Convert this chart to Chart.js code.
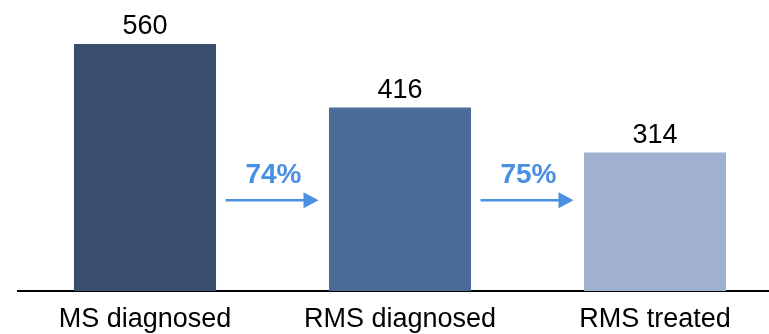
<!DOCTYPE html>
<html>
<head>
<meta charset="utf-8">
<script src="https://cdn.jsdelivr.net/npm/chart.js@4.4.1/dist/chart.umd.min.js"></script>
<style>
  html, body { margin: 0; padding: 0; background: #ffffff; overflow: hidden; }
  #wrap { width: 769px; height: 334px; overflow: hidden; }
  #funnel { display: block; }
</style>
</head>
<body>
<div id="wrap"><canvas id="funnel" width="800" height="334"></canvas></div>
<script>
// Patient funnel: diagnosed MS -> relapsing MS -> treated
const categories = ['MS diagnosed', 'RMS diagnosed', 'RMS treated'];
const patients = [560, 416, 314];
const barColors = ['#394D6E', '#4B6C99', '#9FB1CF'];

const ARROW_BLUE = '#4A90E2';
const AXIS_MAX = 660;
const ARROW_LEVEL = 206;   // value level of the step arrows
const FONT_MAIN = '"Liberation Sans", Arial, sans-serif';

// Bar value labels above each bar
const valueLabels = {
  id: 'valueLabels',
  afterDatasetsDraw(chart) {
    const ctx = chart.ctx;
    const meta = chart.getDatasetMeta(0);
    ctx.save();
    ctx.font = '27px ' + FONT_MAIN;
    ctx.fillStyle = '#000000';
    ctx.textAlign = 'center';
    ctx.textBaseline = 'alphabetic';
    meta.data.forEach((bar, i) => {
      ctx.fillText(String(patients[i]), bar.x, bar.y - 10);
    });
    ctx.restore();
  }
};

// Conversion arrows between consecutive bars, with the step percentage
const stepArrows = {
  id: 'stepArrows',
  afterDatasetsDraw(chart) {
    const ctx = chart.ctx;
    const xs = chart.scales.x;
    const ys = chart.scales.y;
    const y = ys.getPixelForValue(ARROW_LEVEL);
    ctx.save();
    for (let i = 0; i < patients.length - 1; i++) {
      const mid = (xs.getPixelForValue(i) + xs.getPixelForValue(i + 1)) / 2;
      const pct = Math.round(patients[i + 1] / patients[i] * 100) + '%';
      // shaft
      ctx.strokeStyle = ARROW_BLUE;
      ctx.lineWidth = 2.5;
      ctx.beginPath();
      ctx.moveTo(mid - 47, y);
      ctx.lineTo(mid + 33, y);
      ctx.stroke();
      // head
      ctx.fillStyle = ARROW_BLUE;
      ctx.beginPath();
      ctx.moveTo(mid + 31, y - 8);
      ctx.lineTo(mid + 46, y);
      ctx.lineTo(mid + 31, y + 8);
      ctx.closePath();
      ctx.fill();
      // percentage
      ctx.font = 'bold 28px ' + FONT_MAIN;
      ctx.textAlign = 'center';
      ctx.textBaseline = 'alphabetic';
      ctx.fillText(pct, mid + 1, y - 17);
    }
    ctx.restore();
  }
};

new Chart(document.getElementById('funnel'), {
  type: 'bar',
  data: {
    labels: categories,
    datasets: [{
      data: patients,
      backgroundColor: barColors,
      borderWidth: 0,
      barPercentage: 0.557,
      categoryPercentage: 1.0
    }]
  },
  options: {
    responsive: false,
    animation: false,
    events: [],
    layout: { padding: { left: 17.5, right: 17.5, top: 0, bottom: 0 } },
    plugins: {
      legend: { display: false },
      title: { display: false },
      tooltip: { enabled: false }
    },
    scales: {
      x: {
        grid: { display: false, drawTicks: false },
        border: { display: true, color: '#000000', width: 2 },
        ticks: {
          color: '#000000',
          font: { family: FONT_MAIN, size: 27 },
          padding: 12,
          maxRotation: 0,
          autoSkip: false
        },
        afterFit(scale) { scale.height = 43; }
      },
      y: {
        display: false,
        min: 0,
        max: AXIS_MAX
      }
    }
  },
  plugins: [valueLabels, stepArrows]
});
</script>
</body>
</html>
